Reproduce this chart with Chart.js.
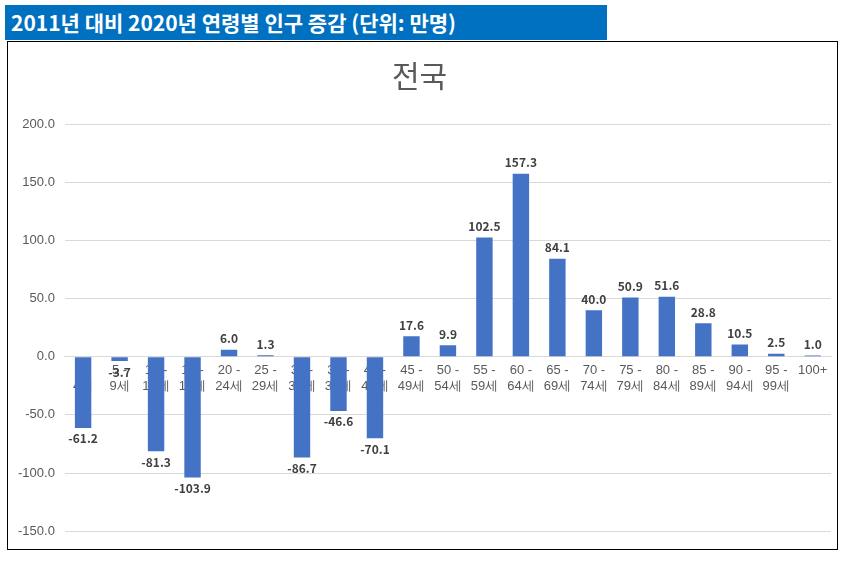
<!DOCTYPE html>
<html>
<head>
<meta charset="utf-8">
<script src="https://cdn.jsdelivr.net/npm/chart.js@4"></script>
<style>
  body { margin:0; background:#fff; font-family:"Noto Sans CJK KR", sans-serif; }
  #banner { position:absolute; left:5px; top:5px; width:602px; height:35px; background:#0070C0; color:#fff;
    font-weight:bold; font-size:21px; line-height:35px; padding-left:6px; box-sizing:border-box; }
  #box { position:absolute; left:7px; top:41px; width:831px; height:509px; border:1px solid #000; box-sizing:border-box; }
</style>
</head>
<body>
<div id="banner">2011년 대비 2020년 연령별 인구 증감 (단위: 만명)</div>
<div id="box"><canvas id="chart"></canvas></div>
<script>
// 연령대
var ageGroups = [['0 -','4세'],['5 -','9세'],['10 -','14세'],['15 -','19세'],['20 -','24세'],['25 -','29세'],
  ['30 -','34세'],['35 -','39세'],['40 -','44세'],['45 -','49세'],['50 -','54세'],['55 -','59세'],['60 -','64세'],
  ['65 -','69세'],['70 -','74세'],['75 -','79세'],['80 -','84세'],['85 -','89세'],['90 -','94세'],['95 -','99세'],'100+'];
var change = [-61.2,-3.7,-81.3,-103.9,6.0,1.3,-86.7,-46.6,-70.1,17.6,9.9,102.5,157.3,84.1,40.0,50.9,51.6,28.8,10.5,2.5,1.0];

// 값 라벨
var valueLabels = {
  id: 'valueLabels',
  afterDatasetsDraw: function(chart) {
    var ctx = chart.ctx;
    var meta = chart.getDatasetMeta(0);
    ctx.save();
    ctx.font = 'bold 12px "Noto Sans CJK KR", sans-serif';
    ctx.fillStyle = '#404040';
    ctx.textAlign = 'center';
    meta.data.forEach(function(bar, i) {
      var v = change[i];
      if (v >= 0) { ctx.textBaseline = 'bottom'; ctx.fillText(v.toFixed(1), bar.x, bar.y - 5); }
      else { ctx.textBaseline = 'top'; ctx.fillText(v.toFixed(1), bar.x, bar.y + 5); }
    });
    ctx.restore();
  }
};

var cv = document.getElementById('chart');
cv.width = 829; cv.height = 507;
cv.style.width = '829px'; cv.style.height = '507px';

new Chart(cv, {
  type: 'bar',
  data: {
    labels: ageGroups,
    datasets: [{ data: change, backgroundColor: '#4472C4', categoryPercentage: 1.0, barPercentage: 0.45 }]
  },
  options: {
    responsive: false,
    animation: false,
    layout: { padding: { left: 0, right: 6, top: 0, bottom: 0 } },
    plugins: {
      legend: { display: false },
      tooltip: { enabled: false },
      title: { display: true, text: '전국', color: '#595959',
        font: { size: 30, family: '"Noto Sans CJK KR", sans-serif', weight: 'normal' }, padding: { top: 16, bottom: 30 } }
    },
    scales: {
      x: {
        position: { y: 0 },
        z: 1,
        grid: { display: false, drawTicks: false },
        border: { color: '#D9D9D9' },
        ticks: { color: '#595959', font: { size: 13 }, maxRotation: 0, autoSkip: false, padding: 6 }
      },
      y: {
        min: -150, max: 200,
        ticks: { stepSize: 50, color: '#595959', font: { size: 13 }, padding: 10,
          callback: function(v) { return v.toFixed(1); } },
        grid: { color: '#D9D9D9', drawTicks: false },
        border: { display: false }
      }
    }
  },
  plugins: [valueLabels]
});
</script>
</body>
</html>
